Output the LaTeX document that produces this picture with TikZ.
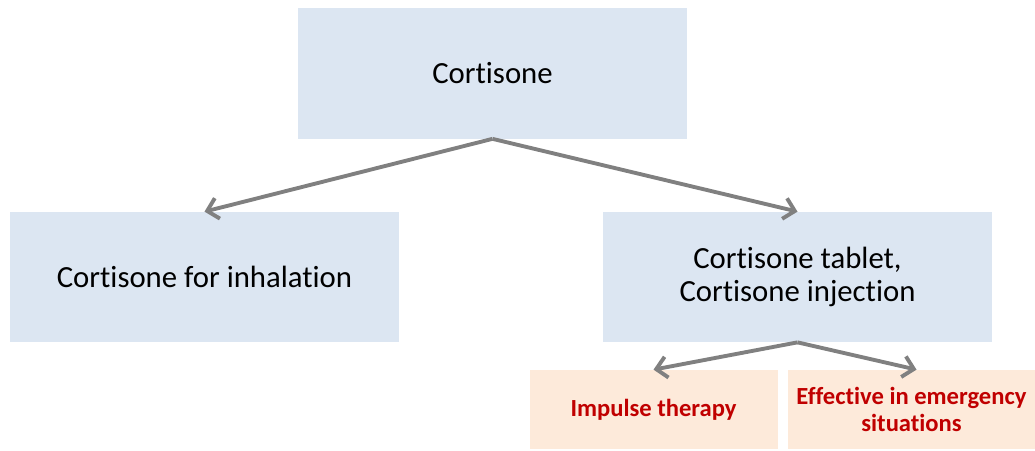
\documentclass[tikz,border=0pt]{standalone}
\usepackage{fontspec}
\setmainfont[Ligatures={NoCommon}]{Carlito}
\usetikzlibrary{arrows.meta}
\definecolor{boxblue}{RGB}{220,230,242}
\definecolor{boxpeach}{RGB}{253,234,218}
\definecolor{txtred}{RGB}{192,0,0}
\definecolor{arrgray}{RGB}{128,128,128}
\begin{document}
\begin{tikzpicture}[
    mainbox/.style={fill=boxblue,minimum width=7.78cm,minimum height=2.6cm,align=center,font=\fontsize{17.5}{19}\selectfont},
    subbox/.style={fill=boxpeach,minimum width=4.96cm,minimum height=1.58cm,align=center,text=txtred,font=\fontsize{14}{15.5}\selectfont\bfseries},
    arr/.style={-{Straight Barb[length=6pt,width=12pt]},arrgray,line width=2.2pt}]
              \useasboundingbox (0,0) rectangle (20.7,9);
              \node[mainbox](cort)at(9.85,7.53){Cortisone};
              \node[mainbox](inhal)at(4.09,3.46){Cortisone for inhalation};
              \node[mainbox](tabl)at(15.95,3.46){Cortisone tablet,\\Cortisone injection};
              \node[subbox](impulse)at(13.07,0.81){Impulse therapy};
              \node[subbox](emerg)at(18.23,0.81){Effective in emergency\\situations};
              \draw[arr](cort.south)--(inhal.north);
              \draw[arr](cort.south)--(tabl.north);
              \draw[arr](tabl.south)--(impulse.north);
              \draw[arr](tabl.south)--([xshift=1mm]emerg.north);
            \end{tikzpicture}
\end{document}
